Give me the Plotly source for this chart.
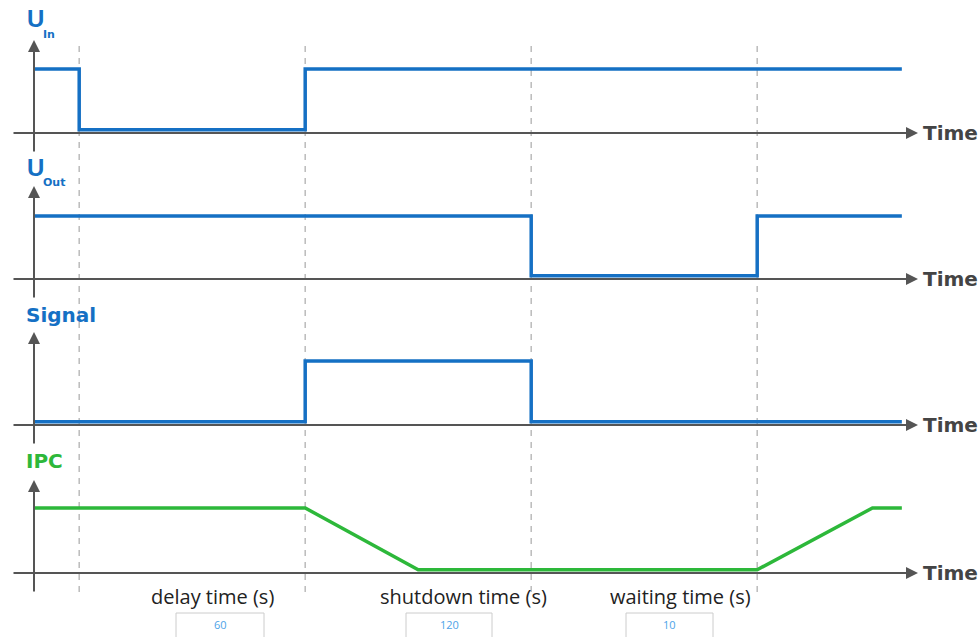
import plotly.graph_objects as go

# ---- data (abstract time units) ----
event_times = [0.2, 1.2, 2.2, 3.2]

t_uin = [0, 0.2, 0.2, 1.2, 1.2, 3.84]
v_uin = [1, 1, 0.05, 0.05, 1, 1]

t_uout = [0, 2.2, 2.2, 3.2, 3.2, 3.84]
v_uout = [1, 1, 0.05, 0.05, 1, 1]

t_sig = [0, 1.2, 1.2, 2.2, 2.2, 3.84]
v_sig = [0.05, 0.05, 1, 1, 0.05, 0.05]

t_ipc = [0, 1.2, 1.7, 3.2, 3.71, 3.84]
v_ipc = [1, 1, 0.05, 0.05, 1, 1]

bottom_labels = ["delay time (s)", "shutdown time (s)", "waiting time (s)"]
bottom_values = ["60", "120", "10"]

BLUE = "#1570c4"
GREEN = "#2db83a"
AXIS = "#555555"
W, H = 980, 637
PX_PER_UNIT = 226.0
X0 = 34.0

def px_x(px):
    return (px - X0) / PX_PER_UNIT

def yrange(b, h):
    u = b - h
    return [(b - H) / u, b / u]

panels = [  # baseline px, high px
    (133, 69),
    (279, 216),
    (425, 361),
    (573, 508),
]

fig = go.Figure()
series = [(t_uin, v_uin, BLUE), (t_uout, v_uout, BLUE), (t_sig, v_sig, BLUE), (t_ipc, v_ipc, GREEN)]
yaxes_names = ["y", "y2", "y3", "y4"]

annotations = []
# axes arrows
for i, (b, h) in enumerate(panels):
    yr = yaxes_names[i]
    u = b - h
    # horizontal axis
    annotations.append(dict(x=px_x(918), y=0, ax=px_x(12), ay=0, xref="x", yref=yr,
                            axref="x", ayref=yr, text="", showarrow=True,
                            arrowhead=2, arrowsize=1.2, arrowwidth=2, arrowcolor=AXIS))
    # vertical axis
    annotations.append(dict(x=0, y=93 / u, ax=0, ay=-20 / u, xref="x", yref=yr,
                            axref="x", ayref=yr, text="", showarrow=True,
                            arrowhead=2, arrowsize=1.2, arrowwidth=2, arrowcolor=AXIS))
    annotations.append(dict(x=px_x(921), y=0, xref="x", yref=yr, text="<b>Time</b>",
                            showarrow=False, xanchor="left", yanchor="middle",
                            font=dict(family="DejaVu Sans", size=20, color="#444444")))

for i, (tx, vy, col) in enumerate(series):
    fig.add_trace(go.Scatter(x=tx, y=vy, mode="lines", yaxis=yaxes_names[i],
                             line=dict(color=col, width=3.5), hoverinfo="skip",
                             showlegend=False))

def py(p):
    return 1 - p / H

# panel titles
annotations += [
    dict(x=25 / W, y=py(19), xref="paper", yref="paper", text="<b>U</b>", showarrow=False,
         xanchor="left", yanchor="middle", font=dict(family="Liberation Sans", size=24, color=BLUE)),
    dict(x=41 / W, y=py(34), xref="paper", yref="paper", text="<b>In</b>", showarrow=False,
         xanchor="left", yanchor="middle", font=dict(family="DejaVu Sans", size=11, color=BLUE)),
    dict(x=25 / W, y=py(168), xref="paper", yref="paper", text="<b>U</b>", showarrow=False,
         xanchor="left", yanchor="middle", font=dict(family="Liberation Sans", size=24, color=BLUE)),
    dict(x=41 / W, y=py(182), xref="paper", yref="paper", text="<b>Out</b>", showarrow=False,
         xanchor="left", yanchor="middle", font=dict(family="DejaVu Sans", size=11, color=BLUE)),
    dict(x=24 / W, y=py(315), xref="paper", yref="paper", text="<b>Signal</b>", showarrow=False,
         xanchor="left", yanchor="middle", font=dict(family="DejaVu Sans", size=20, color=BLUE)),
    dict(x=24 / W, y=py(461), xref="paper", yref="paper", text="<b>IPC</b>", showarrow=False,
         xanchor="left", yanchor="middle", font=dict(family="DejaVu Sans", size=20, color=GREEN)),
]

# bottom labels and boxes
label_cx = [212, 463, 680]
box_x = [(176, 264), (406, 492), (626, 713)]
shapes = []
for lab, val, cx, (bx0, bx1) in zip(bottom_labels, bottom_values, label_cx, box_x):
    annotations.append(dict(x=cx / W, y=py(596), xref="paper", yref="paper", text=lab,
                            showarrow=False, xanchor="center", yanchor="middle",
                            font=dict(family="Open Sans", size=20, color="#222222")))
    shapes.append(dict(type="rect", xref="paper", yref="paper", x0=bx0 / W, x1=bx1 / W,
                       y0=py(640), y1=py(613), line=dict(color="#cccccc", width=1),
                       fillcolor="white", layer="above"))
    annotations.append(dict(x=(bx0 + bx1) / 2 / W, y=py(624), xref="paper", yref="paper",
                            text=val, showarrow=False, xanchor="center", yanchor="middle",
                            font=dict(family="Open Sans", size=11, color="#4da3e8")))

for t in event_times:
    shapes.append(dict(type="line", xref="x", yref="paper", x0=t, x1=t, y0=py(592), y1=py(45),
                       line=dict(color="#bbbbbb", width=1.5, dash="6px,6px"), layer="below"))

layout = dict(
    width=W, height=H, margin=dict(l=0, r=0, t=0, b=0),
    paper_bgcolor="white", plot_bgcolor="white",
    xaxis=dict(range=[px_x(0), px_x(W)], visible=False, fixedrange=True),
    annotations=annotations, shapes=shapes, showlegend=False,
)
for i, (b, h) in enumerate(panels):
    key = "yaxis" if i == 0 else f"yaxis{i+1}"
    d = dict(range=yrange(b, h), visible=False, domain=[0, 1], fixedrange=True)
    if i > 0:
        d["overlaying"] = "y"
    layout[key] = d

fig.update_layout(**layout)
fig.write_html("out.html", config={"displayModeBar": False},
               post_script="document.body.style.margin='0px';document.body.style.overflow='hidden';")
